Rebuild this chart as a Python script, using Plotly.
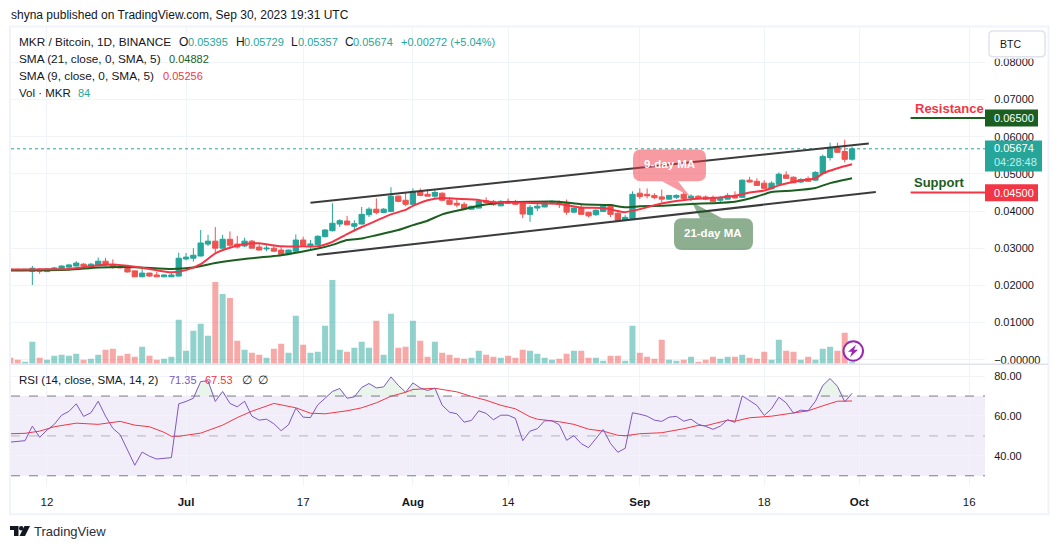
import pandas as pd
import plotly.graph_objects as go

W, H = 1059, 551
def px(x): return x / W
def py(y): return 1 - y / H

start_date = "2023-06-07"
opens = [.02435,.02430,.02410,.02380,.02440,.02370,.02410,.02440,.02490,.02520,.02570,.02490,.02530,.02650,.02560,.02510,.02460,.02390,.02230,.02330,.02280,.02230,.02230,.02250,
 .0271,.0273,.0279,.0311,.0319,.0300,.0324,.0311,.0306,.0319,.0303,.0298,.0300,.0295,.0284,.0292,.0322,.0308,.0310,.0331,
 .0347,.0365,.0373,.0359,.0365,.0390,.0405,.0396,.0399,.0440,.0429,
 .0418,.0453,.0445,.0440,.0448,.0429,.0421,.0418,.0405,.0408,.0427,.0426,.0414,.0426,.0426,.0421,.0391,.0408,.0411,.0423,.0424,.0421,.0397,.0410,.0397,.0390,.0399,.0413,.0394,.0375,.0380,
 .0448,.0445,.0442,.0438,.0432,.0437,.0445,.0435,.0440,.0438,.0437,.0429,.0432,.0442,.0437,.0483,.0480,.0475,.0460,.0472,.0497,.0491,.0478,.0487,.0483,.0501,.0544,.0571,.0560,.05395]
closes = [.02420,.02420,.02430,.02460,.02380,.02440,.02470,.02520,.02550,.02600,.02520,.02570,.02650,.02550,.02480,.02470,.02360,.02230,.02330,.02250,.02230,.02280,.02280,.02730,
 .0276,.0281,.0314,.0319,.0300,.0324,.0308,.0303,.0319,.0300,.0295,.0300,.0292,.0284,.0295,.0322,.0308,.0311,.0332,.0349,
 .0367,.0374,.0363,.0366,.0391,.0405,.0396,.0405,.0440,.0426,.0418,
 .0453,.0442,.0440,.0450,.0429,.0418,.0416,.0405,.0413,.0427,.0423,.0417,.0426,.0421,.0418,.0392,.0410,.0413,.0424,.0426,.0418,.0397,.0408,.0391,.0387,.0402,.0413,.0391,.0375,.0383,.0445,
 .0439,.0441,.0436,.0432,.0442,.0442,.0434,.0440,.0434,.0432,.0426,.0434,.0442,.0435,.0483,.0478,.0469,.0461,.0475,.0499,.0488,.0476,.0485,.0480,.0504,.0547,.0571,.0558,.0539,.05674]
highs = [.02460,.02450,.02440,.02520,.02460,.02450,.02500,.02540,.02580,.02650,.02600,.02600,.02750,.02740,.02700,.02530,.02540,.02390,.02460,.02340,.02360,.02290,.02340,.02880,
 .0287,.0300,.0349,.0336,.0357,.0336,.0345,.0333,.0328,.0322,.0311,.0308,.0307,.0305,.0296,.0337,.0331,.0322,.0335,.0351,
 .0421,.0378,.0387,.0375,.0411,.0410,.0434,.0408,.0464,.0442,.0448,
 .0461,.0461,.0458,.0458,.0450,.0437,.0432,.0424,.0413,.0428,.0437,.0430,.0429,.0434,.0430,.0426,.0416,.0423,.0427,.0429,.0428,.0431,.0410,.0418,.0398,.0405,.0416,.0418,.0402,.0389,.0453,
 .0461,.0461,.0448,.0458,.0443,.0445,.0450,.0445,.0442,.0442,.0442,.0440,.0448,.0453,.0485,.0492,.0488,.0483,.0480,.0504,.0507,.0493,.0488,.0493,.0507,.0552,.0584,.0584,.0592,.05729]
lows = [.02400,.02400,.02400,.02010,.02310,.02360,.02400,.02430,.02480,.02510,.02500,.02480,.02520,.02510,.02450,.02460,.02350,.02230,.02220,.02230,.02220,.02220,.02220,.02240,
 .0267,.0264,.0278,.0306,.0287,.0299,.0301,.0299,.0303,.0300,.0294,.0292,.0290,.0283,.0283,.0290,.0306,.0295,.0309,.0329,
 .0345,.0357,.0362,.0345,.0364,.0384,.0391,.0394,.0399,.0424,.0413,
 .0418,.0440,.0440,.0433,.0426,.0418,.0410,.0403,.0404,.0407,.0421,.0414,.0413,.0420,.0417,.0381,.0371,.0400,.0410,.0420,.0408,.0390,.0394,.0391,.0383,.0387,.0397,.0384,.0373,.0373,.0380,
 .0432,.0434,.0432,.0423,.0431,.0432,.0432,.0426,.0434,.0429,.0424,.0421,.0431,.0434,.0436,.0477,.0468,.0461,.0458,.0471,.0487,.0475,.0476,.0478,.0482,.0501,.0536,.0557,.0531,.05357]
volumes = [336,224,112,1232,336,224,448,504,448,560,224,280,504,784,840,448,560,392,952,448,224,280,392,2464,
 728,1848,2240,1568,4592,3920,3696,1288,784,616,504,336,840,1120,616,2688,1064,616,672,2128,
 4704,784,672,896,1232,896,2408,504,2800,896,952,
 2408,1288,392,1232,616,504,336,280,336,728,504,392,336,448,336,784,728,560,336,224,280,560,728,728,336,336,168,448,448,168,2128,
 616,392,280,1344,224,168,224,392,112,224,392,280,392,392,504,336,280,672,224,1344,728,672,224,392,224,840,952,728,1736,84]

sma21_dates = ["2023-06-07","2023-06-15","2023-06-19","2023-06-24","2023-06-29","2023-07-02","2023-07-05","2023-07-09","2023-07-14","2023-07-19","2023-07-21","2023-07-23","2023-07-25","2023-07-27","2023-07-30","2023-08-01","2023-08-03","2023-08-05","2023-08-08","2023-08-10","2023-08-12","2023-08-14","2023-08-17","2023-08-21","2023-08-24","2023-08-28","2023-08-30","2023-09-01","2023-09-04","2023-09-08","2023-09-11","2023-09-14","2023-09-17","2023-09-19","2023-09-22","2023-09-25","2023-09-27","2023-09-30"]
sma21 = [.0240,.0242,.0248,.0249,.0244,.0248,.0260,.0271,.0281,.0299,.0309,.0322,.0326,.0335,.0349,.0362,.0374,.0391,.0405,.0414,.0420,.0424,.0425,.0425,.0418,.0416,.0410,.0413,.0414,.0419,.0421,.0425,.0439,.0451,.0455,.0462,.0475,.04882]
sma9_dates = ["2023-06-07","2023-06-11","2023-06-15","2023-06-19","2023-06-21","2023-06-24","2023-06-26","2023-06-29","2023-07-01","2023-07-03","2023-07-05","2023-07-07","2023-07-09","2023-07-11","2023-07-14","2023-07-17","2023-07-19","2023-07-21","2023-07-23","2023-07-25","2023-07-27","2023-07-29","2023-07-31","2023-08-01","2023-08-03","2023-08-05","2023-08-07","2023-08-10","2023-08-12","2023-08-15","2023-08-18","2023-08-21","2023-08-24","2023-08-27","2023-08-29","2023-08-30","2023-09-01","2023-09-04","2023-09-06","2023-09-08","2023-09-11","2023-09-14","2023-09-16","2023-09-18","2023-09-20","2023-09-23","2023-09-25","2023-09-26","2023-09-28","2023-09-30"]
sma9 = [.0243,.0243,.0244,.0254,.0256,.0250,.0244,.0235,.0241,.0257,.0286,.0301,.0311,.0313,.0305,.0305,.0305,.0317,.0338,.0357,.0374,.0391,.0403,.0414,.0429,.0435,.0433,.0430,.0423,.0423,.0421,.0419,.0409,.0408,.0400,.0397,.0405,.0420,.0427,.0432,.0435,.0441,.0450,.0455,.0469,.0482,.0488,.0501,.0515,.05256]

rsi = [46.9,47.2,47.6,54.9,49.3,52.9,55.8,60.4,62.3,66.1,59.8,61.6,67.4,59.9,53.8,50.6,42.6,35.3,41.9,39.8,38.4,38.8,39.1,66.1,
 67.3,68.9,77.3,77.6,67.3,72.3,66.3,64.6,67.4,59.9,57.9,58.4,56.1,52.6,55.6,63.9,59.4,59.2,65.6,68.9,72.3,73.8,68.9,69.6,74.3,76.3,74.1,74.6,79.6,75.4,71.9,
 76.6,74.1,72.8,73.9,65.4,61.9,61.1,56.9,57.8,62.6,61.3,58.1,60.4,60.4,58.8,47.6,52.4,53.6,57.6,57.6,55.6,47.8,50.1,46.1,44.1,48.6,53.2,46.2,41.8,43.8,61.6,
 60.9,59.9,57.9,57.3,59.4,59.8,57.4,58.4,55.8,54.8,53.3,54.9,58.1,56.8,70.1,67.9,65.3,60.3,63.6,69.4,66.6,61.4,62.9,62.6,67.4,75.3,78.8,74.9,67.1,71.35]
rsi_ma_dates = ["2023-06-07","2023-06-09","2023-06-11","2023-06-13","2023-06-16","2023-06-19","2023-06-22","2023-06-24","2023-06-26","2023-06-28","2023-06-29","2023-06-30","2023-07-03","2023-07-06","2023-07-08","2023-07-10","2023-07-13","2023-07-15","2023-07-16","2023-07-18","2023-07-20","2023-07-23","2023-07-25","2023-07-27","2023-07-29","2023-07-31","2023-08-01","2023-08-04","2023-08-07","2023-08-09","2023-08-11","2023-08-13","2023-08-15","2023-08-17","2023-08-18","2023-08-21","2023-08-23","2023-08-25","2023-08-27","2023-08-29","2023-08-30","2023-09-01","2023-09-04","2023-09-07","2023-09-09","2023-09-10","2023-09-13","2023-09-14","2023-09-16","2023-09-19","2023-09-22","2023-09-24","2023-09-26","2023-09-28","2023-09-30"]
rsi_ma = [51.1,51.3,52.4,54.6,56.4,55.8,57.3,55.4,54.6,51.8,49.8,49.8,51.4,55.4,59.2,62.4,66.3,64.6,64.1,61.4,61.1,62.6,64.1,66.6,69.9,71.9,73.3,73.9,72.1,69.8,67.9,65.4,63.6,59.6,58.4,57.1,55.8,53.4,52.4,50.3,50.1,51.1,51.6,53.6,55.3,55.1,57.9,57.4,59.1,59.9,61.4,62.6,65.1,67.4,67.53]

channel_up_dates = ["2023-07-18 00:00","2023-10-02 07:00"]
channel_up = [.04223,.05818]
channel_lo_dates = ["2023-07-18 21:00","2023-10-03 06:00"]
channel_lo = [.02815,.04512]
level_dates = ["2023-10-08","2023-10-18 04:00"]
resistance = [.065,.065]
support = [.045,.045]
last_price = .05674

x_range = ["2023-06-07 02:00","2023-10-18 04:00"]
tick_dates = ["2023-06-12","2023-07-01","2023-07-17","2023-08-01","2023-08-14","2023-09-01","2023-09-18","2023-10-01","2023-10-16"]
tick_labels = ["12","<b>Jul</b>","17","<b>Aug</b>","14","<b>Sep</b>","18","<b>Oct</b>","16"]
price_ticks = [0,.01,.02,.03,.04,.05,.06,.07,.08]
price_labels = ["\u22120.00000","0.01000","0.02000","0.03000","0.04000","0.05000","0.06000","0.07000","0.08000"]
rsi_ticks = [40,60,80]
rsi_labels = ["40.00","60.00","80.00"]

UP, DOWN = "#26A69A", "#EF5350"
RED, DGREEN, PURPLE = "#F23645", "#1B5E20", "#7E57C2"
GRID, INK = "#F0F3FA", "#131722"
FONT = "Liberation Sans"

dates = pd.date_range(start_date, periods=len(opens), freq="D")
vol_colors = ["rgba(38,166,154,0.5)" if c >= o else "rgba(239,83,80,0.5)" for o, c in zip(opens, closes)]
rsi_top = [max(v, 70) for v in rsi]

fig = go.Figure()
fig.add_trace(go.Scatter(x=x_range, y=[last_price] * 2, mode="lines", yaxis="y",
                         line=dict(color=UP, width=1, dash="dot")))
fig.add_trace(go.Candlestick(x=dates, open=opens, high=highs, low=lows, close=closes, yaxis="y",
                             increasing=dict(line=dict(color=UP, width=1), fillcolor=UP),
                             decreasing=dict(line=dict(color=DOWN, width=1), fillcolor=DOWN)))
fig.add_trace(go.Scatter(x=sma21_dates, y=sma21, mode="lines", yaxis="y", line=dict(color=DGREEN, width=2, shape="spline", smoothing=0.5)))
fig.add_trace(go.Scatter(x=sma9_dates, y=sma9, mode="lines", yaxis="y", line=dict(color=RED, width=2, shape="spline", smoothing=0.5)))
for xs, ys in ((channel_up_dates, channel_up), (channel_lo_dates, channel_lo)):
    fig.add_trace(go.Scatter(x=xs, y=ys, mode="lines", yaxis="y", line=dict(color="#3B3B3B", width=2)))
fig.add_trace(go.Scatter(x=level_dates, y=resistance, mode="lines", yaxis="y", line=dict(color=DGREEN, width=2)))
fig.add_trace(go.Scatter(x=level_dates, y=support, mode="lines", yaxis="y", line=dict(color=RED, width=2)))
fig.add_trace(go.Bar(x=dates, y=volumes, yaxis="y3", marker=dict(color=vol_colors, line=dict(width=0))))
fig.add_trace(go.Scatter(x=dates, y=[70] * len(dates), mode="lines", yaxis="y2", line=dict(width=0, color="rgba(0,0,0,0)")))
fig.add_trace(go.Scatter(x=dates, y=rsi_top, mode="lines", yaxis="y2", line=dict(width=0, color="rgba(0,0,0,0)"), fill="tonexty",
                         fillcolor="rgba(76,175,80,0.12)"))
fig.add_trace(go.Scatter(x=rsi_ma_dates, y=rsi_ma, mode="lines", yaxis="y2", line=dict(color=RED, width=1)))
fig.add_trace(go.Scatter(x=dates, y=rsi, mode="lines", yaxis="y2", line=dict(color=PURPLE, width=1)))

def rrect(x0, y0, x1, y1, r):
    return (f"M{px(x0+r)},{py(y0)} L{px(x1-r)},{py(y0)} Q{px(x1)},{py(y0)} {px(x1)},{py(y0+r)} "
            f"L{px(x1)},{py(y1-r)} Q{px(x1)},{py(y1)} {px(x1-r)},{py(y1)} L{px(x0+r)},{py(y1)} "
            f"Q{px(x0)},{py(y1)} {px(x0)},{py(y1-r)} L{px(x0)},{py(y0+r)} Q{px(x0)},{py(y0)} {px(x0+r)},{py(y0)} Z")
def poly(pts):
    return "M" + " L".join(f"{px(a)},{py(b)}" for a, b in pts) + " Z"
def pshape(path, fill, line=None, w=0, layer="above"):
    return dict(type="path", xref="paper", yref="paper", path=path, fillcolor=fill,
                line=dict(color=line or "rgba(0,0,0,0)", width=w), layer=layer)
def rect(x0, y0, x1, y1, fill, line=None, w=0, layer="above"):
    return dict(type="rect", xref="paper", yref="paper", x0=px(x0), x1=px(x1), y0=py(y0), y1=py(y1),
                fillcolor=fill, line=dict(color=line or "rgba(0,0,0,0)", width=w), layer=layer)
def hband(y, x0=11, x1=985):
    return dict(type="line", xref="paper", yref="y2", x0=px(x0), x1=px(x1), y0=y, y1=y, layer="above",
                line=dict(color="#787B86", width=1, dash="dash"))

PINK = "rgba(242,54,69,0.5)"
SAGE = "rgba(27,94,32,0.5)"
shapes = [
    dict(type="rect", xref="paper", yref="y2", x0=px(11), x1=px(985), y0=30, y1=70,
         fillcolor="rgba(126,87,194,0.1)", line=dict(width=0), layer="below"),
    hband(70), hband(30),
    dict(type="line", xref="paper", yref="y2", x0=px(11), x1=px(985), y0=50, y1=50, layer="above",
         line=dict(color="rgba(120,123,134,0.5)", width=1, dash="dash")),
    rect(10, 26.5, 1048.5, 516, "rgba(0,0,0,0)", GRID, 2),
    dict(type="line", xref="paper", yref="paper", x0=px(11), x1=px(1048), y0=py(365.5), y1=py(365.5),
         line=dict(color="#E0E3EB", width=1.5), layer="above"),
    pshape(rrect(633, 150, 706, 182, 8), PINK),
    pshape(poly([(662, 182), (690, 197), (678, 182)]), PINK),
    pshape(rrect(674, 219, 753, 251, 8), SAGE),
    pshape(poly([(692, 203), (700, 219), (722, 219)]), SAGE),
    rect(985, 110, 1038, 127, DGREEN),
    rect(985, 185, 1038, 202, RED),
    rect(985, 141, 1042, 172, UP),
    rect(986, 57, 1047, 59, "#FFFFFF"),
    pshape(rrect(989, 31, 1045, 57, 4), "#FFFFFF", "#E0E3EB", 1.5),
    dict(type="circle", xref="paper", yref="paper", x0=px(843.5), x1=px(863), y0=py(342.5), y1=py(362),
         fillcolor="#FFFFFF", line=dict(color="#9C27B0", width=2), layer="above"),
    pshape(poly([(856, 346), (848, 353), (852, 353), (850, 358.5), (858, 351), (854, 351)]), "#9C27B0"),
    pshape(poly([(10, 528), (18.5, 528), (18.5, 538), (14, 538), (14, 532), (10, 532)]), INK),
    dict(type="circle", xref="paper", yref="paper", x0=px(19), x1=px(23.5), y0=py(528), y1=py(532.5),
         fillcolor=INK, line=dict(width=0), layer="above"),
    pshape(poly([(24.5, 528), (30, 528), (25, 538), (19.5, 538)]), INK),
]

def txt(x, y, s, color=INK, size=12, anchor="left", bold=False, family=FONT):
    return dict(xref="paper", yref="paper", x=px(x), y=py(y), text=f"<b>{s}</b>" if bold else s, showarrow=False,
                xanchor=anchor, yanchor="middle", borderpad=0, font=dict(family=family, size=size, color=color))

annotations = [
    txt(10, 15, "shyna published on TradingView.com, Sep 30, 2023 19:31 UTC"),
    txt(18, 42, "MKR / Bitcoin, 1D, BINANCE", size=11.8),
    txt(178, 42, "O"), txt(187, 42, "0.05395", UP, 11),
    txt(235, 42, "H"), txt(243, 42, "0.05729", UP, 11),
    txt(290, 42, "L"), txt(297, 42, "0.05357", UP, 11),
    txt(344, 42, "C"), txt(352, 42, "0.05674", UP, 11),
    txt(400, 42, "+0.00272 (+5.04%)", UP, 11),
    txt(18, 59, "SMA (21, close, 0, SMA, 5)", size=11.8), txt(168, 59, "0.04882", DGREEN, 11),
    txt(18, 76, "SMA (9, close, 0, SMA, 5)", size=11.8), txt(162, 76, "0.05256", RED, 11),
    txt(18, 93, "Vol \u00b7 MKR", size=11.5), txt(77, 93, "84", UP, 11),
    txt(18, 381, "RSI (14, close, SMA, 14, 2)", size=11.5), txt(168, 381, "71.35", PURPLE, 11), txt(204, 381, "67.53", RED, 11),
    txt(241, 381, "\u2205"), txt(257, 381, "\u2205"),
    txt(999, 44.5, "BTC", size=10.5),
    txt(993, 118.5, "0.06500", "#FFFFFF", 11),
    txt(993, 193.5, "0.04500", "#FFFFFF", 11),
    txt(993, 149, "0.05674", "#FFFFFF", 11),
    txt(993, 163, "04:28:48", "#C4EDE9", 11),
    txt(914, 109, "Resistance", RED, 13, bold=True),
    txt(913, 183, "Support", DGREEN, 13, bold=True),
    txt(669, 165, "9-day MA", "#FFFFFF", 11.5, "center", True),
    txt(713, 234, "21-day MA", "#FFFFFF", 11.5, "center", True),
    txt(33, 533, "TradingView", "#2A2E39", 13),
]

tick_font = dict(family=FONT, size=11, color=INK)
fig.update_layout(
    width=W, height=H, margin=dict(l=0, r=0, t=0, b=0), paper_bgcolor="#FFFFFF", plot_bgcolor="#FFFFFF",
    showlegend=False, bargap=0.18, boxgap=0.15, boxgroupgap=0.15, shapes=shapes, annotations=annotations, hovermode=False,
    xaxis=dict(type="date", domain=[px(11), px(985)], range=x_range, anchor="y2", tickmode="array",
               tickvals=tick_dates, ticktext=tick_labels, showgrid=True, gridcolor=GRID, gridwidth=1,
               zeroline=False, showline=False, ticks="outside", ticklen=5, tickcolor="rgba(0,0,0,0)",
               tickfont=dict(family=FONT, size=11.5, color=INK), rangeslider=dict(visible=False)),
    yaxis=dict(domain=[py(365), py(27)], range=[-.00107, .08954], side="right", anchor="x", tickmode="array",
               tickvals=price_ticks, ticktext=price_labels, showgrid=True, gridcolor=GRID, zeroline=False,
               ticks="outside", ticklen=6, tickcolor="rgba(0,0,0,0)", tickfont=tick_font),
    yaxis2=dict(domain=[py(488), py(366)], range=[24.75, 85.75], side="right", anchor="x", tickmode="array",
                tickvals=rsi_ticks, ticktext=rsi_labels, showgrid=True, gridcolor=GRID, zeroline=False,
                ticks="outside", ticklen=6, tickcolor="rgba(0,0,0,0)", tickfont=tick_font),
    yaxis3=dict(overlaying="y", range=[0, 18928], visible=False, anchor="x", side="left"),
)
fig.write_html("out.html", post_script="document.body.style.margin='0';", config=dict(displayModeBar=False))
